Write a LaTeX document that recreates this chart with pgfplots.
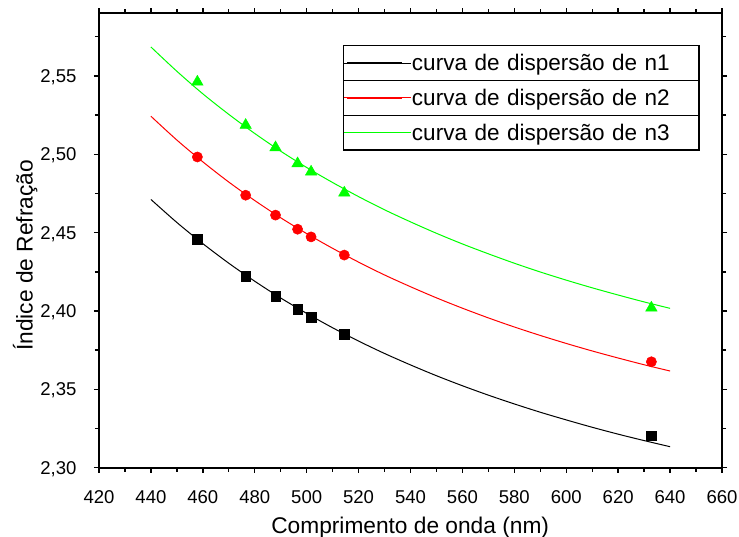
\documentclass[border=0pt]{standalone}
\usepackage{pgfplots}
\pgfplotsset{compat=1.18}
\usepackage{fontspec}
\setmainfont{Liberation Sans}

\definecolor{cgreen}{RGB}{0,255,0}
\definecolor{cred}{RGB}{255,0,0}

\begin{document}
\begin{tikzpicture}
\begin{axis}[
  name=ax, at={(0,0)}, anchor=south west,
  scale only axis, width=623bp, height=454.4bp,
  xmin=420, xmax=660, ymin=2.30, ymax=2.59,
  xtick={420,440,...,660},
  minor xtick={430,450,...,650},
  ytick={2.30,2.35,2.40,2.45,2.50,2.55},
  minor ytick={2.325,2.375,2.425,2.475,2.525,2.575},
  tick align=outside,
  major tick length=5bp, minor tick length=4bp,
  every tick/.style={black, line width=1.4bp},
  axis line style={line width=2bp},
  /pgf/number format/assume math mode=true,
  ticklabel style={font=\fontsize{18.6}{22}\selectfont, inner sep=0pt},
  xticklabel style={anchor=base, yshift=-30.6bp},
  yticklabel style={anchor=base east, xshift=-17.3bp, yshift=-6.6bp,
    /pgf/number format/.cd, fixed, fixed zerofill, precision=2, use comma},
  xlabel={Comprimento de onda (nm)},
  xlabel style={at={(axis description cs:0.4995,-0.1437)}, anchor=base,
    font=\fontsize{22.8}{27}\selectfont},
  ylabel={Índice de Refração},
  ylabel style={at={(axis description cs:-0.1064,0.4672)}, anchor=base,
    font=\fontsize{22.8}{27}\selectfont},
  legend cell align=left,
  legend style={at={(0.3921,0.9287)}, anchor=north west,
    line width=1.5bp, fill=white,
    inner sep=0pt, outer sep=0pt, row sep=0pt, column sep=0pt,
    font=\fontsize{22.6}{27}\selectfont,
    nodes={inner sep=0pt, minimum height=34.8bp, text width=287bp,
      text height=17bp, text depth=2bp, align=left}},
  legend image code/.code={
    \path (0bp,0bp) -- (67.7bp,0bp);
    \draw[#1, line width=1.3bp] (3.7bp,0bp) -- (58bp,0bp);
  },
]

% fitted dispersion curves
\addplot[draw=black, line width=1bp, smooth] coordinates {
  (440,2.4712) (450,2.4565) (460,2.4430) (470,2.4305) (480,2.4190)
  (490,2.4083) (500,2.3985) (510,2.3893) (520,2.3808) (530,2.3729)
  (540,2.3656) (550,2.3587) (560,2.3523) (570,2.3463) (580,2.3407)
  (590,2.3354) (600,2.3305) (610,2.3258) (620,2.3214) (630,2.3173)
  (640,2.3134)};
\addlegendentry{curva de dispersão de n1}

\addplot[draw=cred, line width=1bp, smooth] coordinates {
  (440,2.5243) (450,2.5091) (460,2.4952) (470,2.4823) (480,2.4705)
  (490,2.4595) (500,2.4494) (510,2.4400) (520,2.4312) (530,2.4230)
  (540,2.4155) (550,2.4084) (560,2.4018) (570,2.3956) (580,2.3898)
  (590,2.3844) (600,2.3793) (610,2.3745) (620,2.3700) (630,2.3657)
  (640,2.3617)};
\addlegendentry{curva de dispersão de n2}

\addplot[draw=cgreen, line width=1bp, smooth] coordinates {
  (440,2.5685) (450,2.5530) (460,2.5386) (470,2.5255) (480,2.5133)
  (490,2.5020) (500,2.4916) (510,2.4820) (520,2.4730) (530,2.4646)
  (540,2.4569) (550,2.4496) (560,2.4428) (570,2.4365) (580,2.4305)
  (590,2.4249) (600,2.4197) (610,2.4148) (620,2.4102) (630,2.4058)
  (640,2.4017)};
\addlegendentry{curva de dispersão de n3}

% measured indices
\addplot[forget plot, only marks, mark=square*, mark size=4.7bp,
  mark options={line width=0.5bp}, black] coordinates {
  (457.9,2.4457) (476.5,2.4222) (488.0,2.4095) (496.5,2.4010)
  (501.7,2.3961) (514.5,2.3851) (632.8,2.3202)};
\addplot[forget plot, only marks, mark=*, mark size=5.1bp,
  mark options={line width=0.5bp}, cred] coordinates {
  (457.9,2.4983) (476.5,2.4739) (488.0,2.4612) (496.5,2.4522)
  (501.7,2.4473) (514.5,2.4357) (632.8,2.3676)};
\addplot[forget plot, only marks, mark=triangle*, mark size=6.6bp,
  mark options={line width=0.5bp}, cgreen] coordinates {
  (457.9,2.5462) (476.5,2.5186) (488.0,2.5043) (496.5,2.4941)
  (501.7,2.4888) (514.5,2.4754) (632.8,2.4020)};
\end{axis}

% row rules inside the legend box
\draw[line width=1.3bp] (244.3bp,387.2bp) -- (599.0bp,387.2bp);
\draw[line width=1.3bp] (244.3bp,352.4bp) -- (599.0bp,352.4bp);

\pgfresetboundingbox
\useasboundingbox (-99bp,-69.3bp) rectangle (640bp,467.7bp);
\end{tikzpicture}
\end{document}
